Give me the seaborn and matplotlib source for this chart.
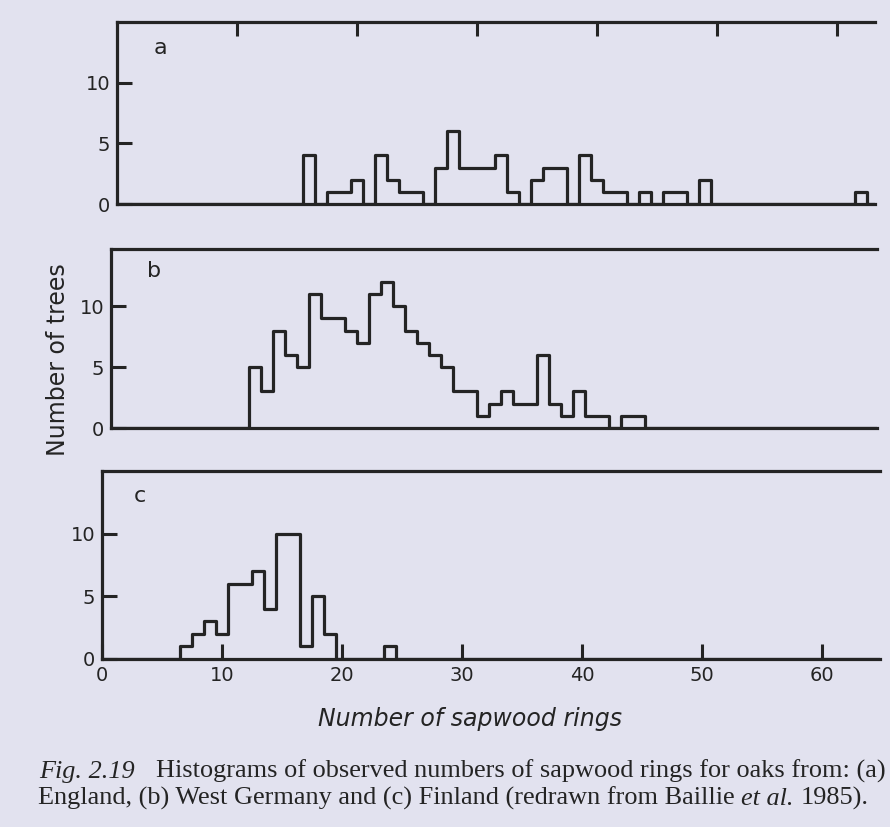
import numpy as np
import pandas as pd
import matplotlib
matplotlib.use("Agg")
import matplotlib.pyplot as plt
import seaborn as sns

# ---------------- data (number of trees per sapwood-ring count) ----------------
# (a) England
rings_a = [16, 18, 19, 20, 22, 23, 24, 25, 27, 28, 29, 30, 31, 32, 33, 35, 36, 37,
           39, 40, 41, 42, 44, 46, 47, 49, 62]
trees_a = [4, 1, 1, 2, 4, 2, 1, 1, 3, 6, 3, 3, 3, 4, 1, 2, 3, 3,
           4, 2, 1, 1, 1, 1, 1, 2, 1]
# (b) West Germany
rings_b = list(range(12, 45))
trees_b = [5, 3, 8, 6, 5, 11, 9, 9, 8, 7, 11, 12, 10, 8, 7, 6, 5, 3, 3, 1,
           2, 3, 2, 2, 6, 2, 1, 3, 1, 1, 0, 1, 1]
# (c) Finland
rings_c = [7, 8, 9, 10, 11, 12, 13, 14, 15, 16, 17, 18, 19, 24]
trees_c = [1, 2, 3, 2, 6, 6, 7, 4, 10, 10, 1, 5, 2, 1]

panel_letters = ["a", "b", "c"]
y_ticks = [0, 5, 10]
x_ticks = [0, 10, 20, 30, 40, 50, 60]
x_label = "Number of sapwood rings"
y_label = "Number of trees"
caption_fig = "Fig. 2.19"
caption_1 = "Histograms of observed numbers of sapwood rings for oaks from: (a)"
caption_2a = "England, (b) West Germany and (c) Finland (redrawn from Baillie"
caption_2b = "et al."
caption_2c = "1985)."

# ---------------- style ----------------
INK = "#242424"
BG = "#e2e2ef"
sns.set_style("ticks", {"axes.facecolor": BG, "figure.facecolor": BG,
                        "axes.edgecolor": INK})
plt.rcParams["font.family"] = ["DejaVu Sans"]
SERIF = ["Liberation Serif", "DejaVu Serif"]

W, H = 890, 827
fig = plt.figure(figsize=(W / 100, H / 100), dpi=100)
fig.patch.set_facecolor(BG)


def add_ax(left, top, right, bottom):
    return fig.add_axes([left / W, 1 - bottom / H, (right - left) / W, (bottom - top) / H])


PX_PER_RING = 12.0
panels = [
    (rings_a, trees_a, (117, 22, 875, 204), 15.0, (160, 48)),
    (rings_b, trees_b, (111, 249, 876.6, 428), 14.7, (154, 271)),
    (rings_c, trees_c, (102, 471, 879.6, 659), 15.0, (140, 496)),
]

for i, (rings, trees, box, ytop, letter_pos) in enumerate(panels):
    ax = add_ax(*box)
    full = np.arange(0, 67)
    counts = np.zeros(len(full))
    for r, t in zip(rings, trees):
        counts[r] = t
    df = pd.DataFrame({"rings": full, "trees": counts})
    sns.histplot(data=df, x="rings", weights="trees", discrete=True,
                 element="step", fill=False, color=INK, linewidth=2.3, ax=ax)
    ax.set_xlim(0, (box[2] - box[0]) / PX_PER_RING)
    ax.set_ylim(0, ytop)
    ax.set_xlabel("")
    ax.set_ylabel("")
    ax.set_facecolor(BG)
    for side in ["left", "top", "bottom"]:
        ax.spines[side].set_linewidth(2.3)
        ax.spines[side].set_color(INK)
    ax.spines["right"].set_visible(False)

    ax.set_yticks(y_ticks)
    ax.tick_params(axis="y", direction="in", length=11, width=2.2,
                   labelsize=14, pad=5, colors=INK)
    if i == 0:
        ax.set_xticks(x_ticks[1:])
        ax.tick_params(axis="x", which="both", direction="in", length=10, width=2.2,
                       top=True, bottom=False, labeltop=False, labelbottom=False,
                       colors=INK)
    elif i == 1:
        ax.set_xticks([])
    else:
        ax.set_xticks(x_ticks)
        ax.tick_params(axis="x", direction="in", length=11, width=2.2,
                       top=False, bottom=True, labelsize=14, pad=5, colors=INK)
    fig.text(letter_pos[0] / W, 1 - letter_pos[1] / H, panel_letters[i],
             fontsize=16, ha="center", va="center", color=INK)

# axis titles
fig.text(470 / W, 1 - 719 / H, x_label, fontsize=17, style="italic",
         ha="center", va="center", color=INK)
fig.text(58 / W, 1 - 360 / H, y_label, fontsize=17, rotation=90,
         ha="center", va="center", color=INK)

# caption, sized to span the same width as the reference
renderer = fig.canvas.get_renderer()


def text_w(s, size, style):
    t = fig.text(0, 0, s, fontsize=size, family=SERIF, style=style)
    w = t.get_window_extent(renderer).width
    t.remove()
    return w


base = 16.0
wf = text_w(caption_fig, base, "italic")
w1 = text_w(caption_1, base, "normal")
gap1_em = 0.8
size = 843.0 / ((wf + w1) / base + gap1_em * 100 / 72)
em = size * 100 / 72


def put_line(x0, y_base, parts):
    x = x0
    for s, style, gap in parts:
        t = fig.text(x / W, 1 - y_base / H, s, fontsize=size, family=SERIF,
                     style=style, ha="left", va="baseline", color=INK)
        x += t.get_window_extent(renderer).width + gap * em
    return x


put_line(39, 778, [(caption_fig, "italic", gap1_em), (caption_1, "normal", 0)])
put_line(38, 805, [(caption_2a, "normal", 0.25), (caption_2b, "italic", 0.25),
                   (caption_2c, "normal", 0)])

fig.savefig("out.png", dpi=100, facecolor=BG)
